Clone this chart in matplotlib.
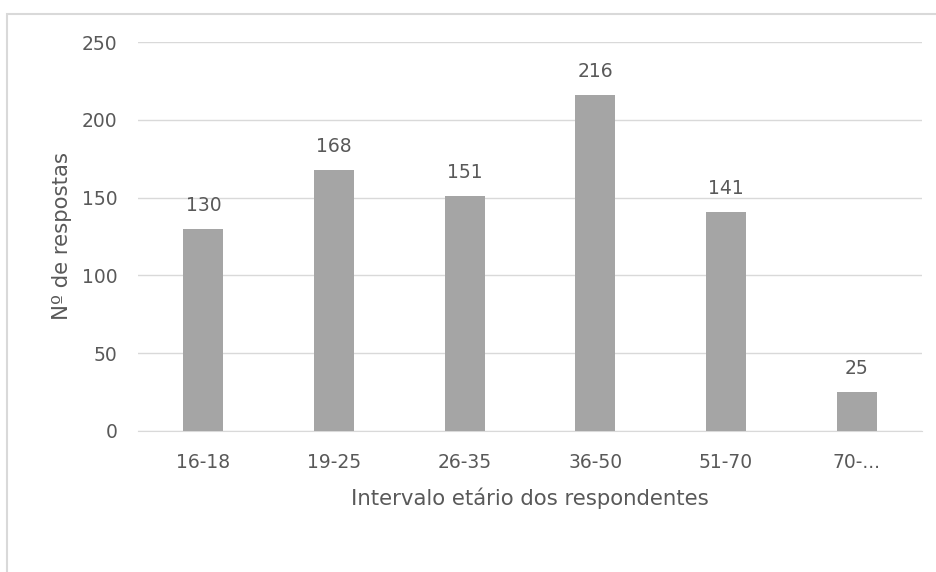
import numpy as np
import matplotlib.pyplot as plt
from matplotlib.patches import Rectangle

faixas = ["16-18", "19-25", "26-35", "36-50", "51-70", "70-..."]
respostas = [130, 168, 151, 216, 141, 25]
yticks = [0, 50, 100, 150, 200, 250]

plt.rcParams['font.family'] = ['DejaVu Sans']
cor_texto = '#595959'
cor_grelha = '#D9D9D9'
fs = 13.5       # eixos e rótulos de dados
fs_titulo = 15.3  # títulos dos eixos

W, H = 937, 572
fig = plt.figure(figsize=(W/100, H/100), dpi=100)
ax = fig.add_axes([138/W, 1 - 431/H, (922-138)/W, (431-42)/H])

# moldura do gráfico (só os lados esquerdo e superior ficam visíveis)
fig.patches.append(Rectangle((7.5/W, -0.1), 1.1, 1 - 13.5/H + 0.1, transform=fig.transFigure,
                             fill=False, edgecolor=cor_grelha, lw=1.5))

x = np.arange(len(faixas))
barras = ax.bar(x, respostas, width=0.306, color='#A5A5A5', zorder=3)
for b, v in zip(barras, respostas):
    ax.annotate(str(v), (b.get_x() + b.get_width()/2, v), xytext=(0, 10),
                textcoords='offset points', ha='center', va='bottom',
                fontsize=fs, color=cor_texto)

ax.set_xlim(-0.5, len(faixas) - 0.5)
ax.set_ylim(0, 250)
ax.set_yticks(yticks)
ax.set_xticks(x)
ax.set_xticklabels(faixas)
ax.grid(axis='y', color=cor_grelha, lw=1, zorder=0)
for s in ['top', 'right', 'left']:
    ax.spines[s].set_visible(False)
ax.spines['bottom'].set_color(cor_grelha)
ax.tick_params(axis='both', length=0, labelsize=fs, colors=cor_texto)
ax.tick_params(axis='y', pad=15)
ax.tick_params(axis='x', pad=16)
ax.set_xlabel("Intervalo etário dos respondentes", fontsize=fs_titulo, color=cor_texto, labelpad=11)
ax.set_ylabel("Nº de respostas", fontsize=fs_titulo, color=cor_texto, labelpad=7)

plt.savefig("out.png", dpi=100)
